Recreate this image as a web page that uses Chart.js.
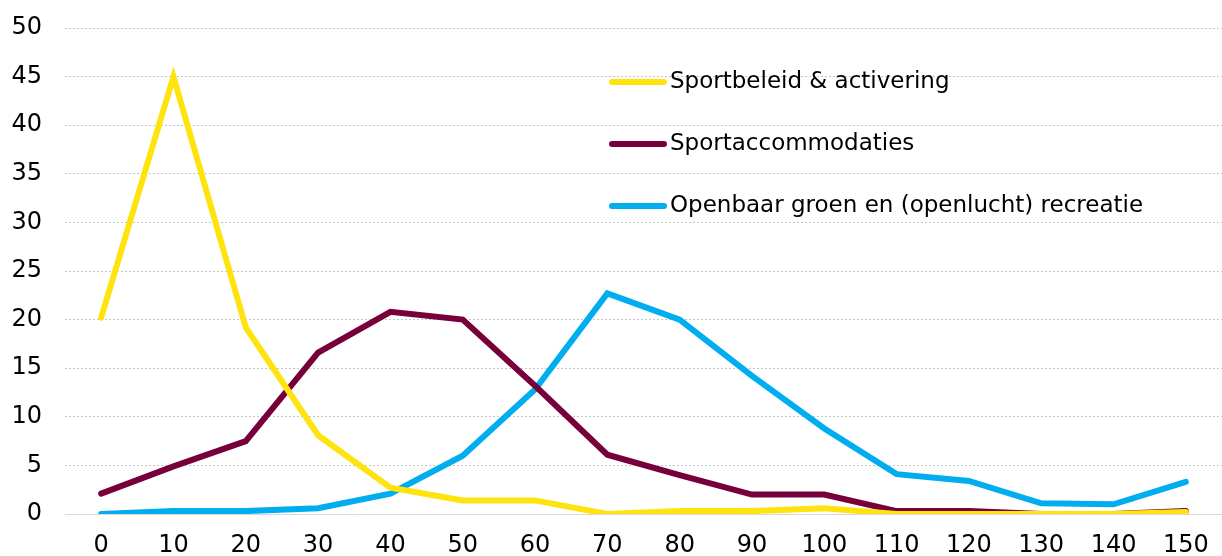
<!DOCTYPE html>
<html>
<head>
<meta charset="utf-8">
<script src="https://cdn.jsdelivr.net/npm/chart.js@4/dist/chart.umd.min.js"></script>
<style>
  html, body { margin: 0; padding: 0; background: #fff; }
  #wrap { width: 1222px; height: 556px; }
</style>
</head>
<body>
<div id="wrap"><canvas id="chart" width="1222" height="556"></canvas></div>
<script>
const categories = ["0", "10", "20", "30", "40", "50", "60", "70", "80", "90", "100", "110", "120", "130", "140", "150"];

const sportbeleid = [20.2, 45, 19.2, 8.1, 2.7, 1.4, 1.4, 0, 0.3, 0.3, 0.6, 0, 0, 0, 0, 0.2];
const accommodaties = [2.1, 4.9, 7.5, 16.6, 20.8, 20, 13.2, 6.1, 4, 2, 2, 0.3, 0.3, 0, 0, 0.3];
const openbaarGroen = [0, 0.3, 0.3, 0.6, 2.1, 6, 12.8, 22.7, 20, 14.2, 8.8, 4.1, 3.4, 1.1, 1, 3.3];

const yTicks = [0, 5, 10, 15, 20, 25, 30, 35, 40, 45, 50];

const FONT = "'DejaVu Sans', Verdana, sans-serif";

// legend drawn inside the plot area, stacked vertically
const innerLegend = {
  id: "innerLegend",
  afterDraw(chart) {
    const ctx = chart.ctx;
    const area = chart.chartArea;
    const x0 = area.left + 547;
    const y0 = area.top + 54;
    ctx.save();
    ctx.font = "23px " + FONT;
    ctx.textBaseline = "middle";
    chart.data.datasets.forEach((ds, i) => {
      const y = y0 + i * 62;
      ctx.strokeStyle = ds.borderColor;
      ctx.lineWidth = 6;
      ctx.lineCap = "round";
      ctx.beginPath();
      ctx.moveTo(x0, y);
      ctx.lineTo(x0 + 52, y);
      ctx.stroke();
      ctx.fillStyle = "#000";
      ctx.fillText(ds.label, x0 + 58, y);
    });
    ctx.restore();
  },
};

new Chart(document.getElementById("chart"), {
  type: "line",
  data: {
    labels: categories,
    datasets: [
      { label: "Sportbeleid & activering", data: sportbeleid, borderColor: "#FFE30F" },
      { label: "Sportaccommodaties", data: accommodaties, borderColor: "#77003B" },
      { label: "Openbaar groen en (openlucht) recreatie", data: openbaarGroen, borderColor: "#00AEEF" },
    ].map((d) => ({
      ...d,
      borderWidth: 6,
      pointRadius: 0,
      tension: 0,
      fill: false,
      borderCapStyle: "round",
      borderJoinStyle: "miter",
    })),
  },
  options: {
    responsive: false,
    animation: false,
    layout: { padding: { top: 28, right: 0, left: 0, bottom: 0 } },
    plugins: {
      legend: { display: false },
      tooltip: { enabled: false },
    },
    scales: {
      x: {
        offset: true,
        grid: { display: false },
        border: { display: true, color: "#D9D9D9", width: 1 },
        ticks: {
          color: "#000",
          font: { family: FONT, size: 24 },
          padding: 9,
          maxRotation: 0,
          autoSkip: false,
        },
        afterFit(scale) {
          scale.height = 42;
          scale.paddingLeft = 0;
          scale.paddingRight = 0;
        },
      },
      y: {
        min: 0,
        max: 50,
        afterBuildTicks(scale) { scale.ticks = yTicks.map((v) => ({ value: v })); },
        grid: {
          color: (c) => (c.tick && c.tick.value === 0 ? "rgba(0,0,0,0)" : "#C4C4C4"),
          lineWidth: 1,
          drawTicks: false,
        },
        border: { display: false, dash: [2, 2] },
        ticks: {
          color: "#000",
          font: { family: FONT, size: 24 },
          padding: 23,
        },
        afterFit(scale) {
          scale.width = 65;
          scale.paddingTop = 0;
          scale.paddingBottom = 0;
        },
      },
    },
  },
  plugins: [innerLegend],
});
</script>
</body>
</html>
